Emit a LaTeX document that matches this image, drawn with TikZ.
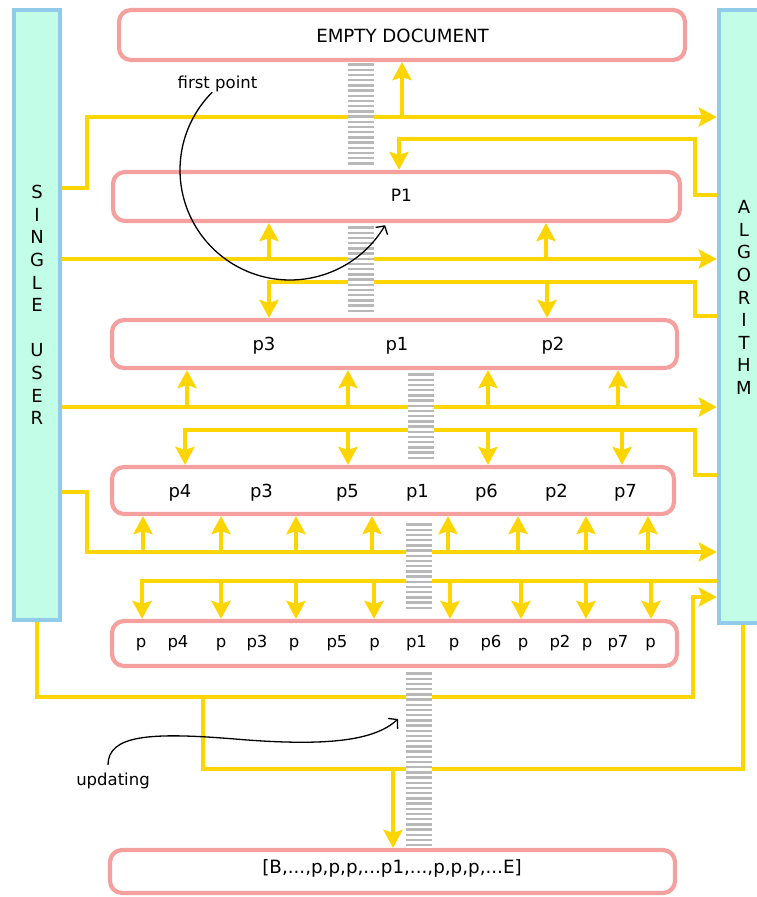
\documentclass[tikz,border=0pt]{standalone}
\usepackage{fontspec}
\setmainfont{DejaVu Sans}
\usetikzlibrary{arrows.meta}
\definecolor{gold}{HTML}{FFD500}
\definecolor{pinkb}{HTML}{F4A09E}
\definecolor{blueb}{HTML}{92CBEA}
\definecolor{mint}{HTML}{C2FDE8}
\definecolor{hatchc}{HTML}{B8B8B8}
\newcommand{\fs}[1]{\fontsize{#1}{#1}\selectfont}
\newcommand{\hatchcol}[3]{% x left, y top, number of stripes
  \fill[white] (#1,#2) rectangle ({#1+26},{#2+5.2*#3});
  \foreach \k in {1,...,#3} {\draw[hline] (#1,{#2+5.2*\k-2.6}) -- ++(26,0);}
}
\begin{document}
\begin{tikzpicture}[x=1pt,y=-1pt,
  box/.style={draw=pinkb, line width=4.2pt, rounded corners=12pt, fill=white, inner sep=0pt},
  bar/.style={draw=blueb, fill=mint, line width=4.4pt, inner sep=0pt},
  yline/.style={draw=gold, line width=4.6pt},
  yarrow/.style={yline, -{Stealth[length=18pt,width=19pt,inset=3pt]}},
  hline/.style={draw=hatchc, line width=2.4pt},
  curv/.style={draw=black, line width=1.3pt, -{Straight Barb[length=6pt,width=14pt]}},
  lbl/.style={inner sep=0pt, anchor=base},
  barlbl/.style={inner sep=0pt, align=center, font=\fontsize{18}{22.6}\selectfont},
]
\useasboundingbox (0,0) rectangle (757,897);

% bars
\node[bar, minimum width=46pt, minimum height=610pt] (su) at (37,315) {};
\node[bar, minimum width=71pt, minimum height=613pt] (alg) at (754.5,316.5) {};
\node[barlbl] (sul) at (37,305) {S\\I\\N\\G\\L\\E\\[22.6pt]U\\S\\E\\R};
\node[barlbl] (algl) at (744,297.5) {A\\L\\G\\O\\R\\I\\T\\H\\M};

% boxes
\node[box, minimum width=566pt, minimum height=50pt] (b1) at (402,35) {};
\node[box, minimum width=567pt, minimum height=49pt] (b2) at (396.5,196.5) {};
\node[box, minimum width=565pt, minimum height=48pt] (b3) at (394.5,344) {};
\node[box, minimum width=562pt, minimum height=47pt] (b4) at (393,490.5) {};
\node[box, minimum width=565pt, minimum height=45pt] (b5) at (394.5,643.5) {};
\node[box, minimum width=565pt, minimum height=43pt] (b6) at (392.5,871.5) {};

% box texts
\node[lbl, font=\fs{18.2}] (t1) at (402.5,42.7) {EMPTY DOCUMENT};
\node[lbl, font=\fs{17}] (t2) at (401.5,201.5) {P1};
\foreach \x/\t [count=\i] in {264/p3,397/p1,553/p2}
  \node[lbl, font=\fs{18}] (t3-\i) at (\x,350.5) {\t};
\foreach \x/\t [count=\i] in {180/p4,261.5/p3,347.5/p5,417.5/p1,486.5/p6,556.5/p2,625.5/p7}
  \node[lbl, font=\fs{18}] (t4-\i) at (\x,497) {\t};
\foreach \x/\t [count=\i] in {141/p,178/p4,221/p,257/p3,294/p,337/p5,374.5/p,416.5/p1,454/p,491/p6,523/p,560/p2,587/p,618/p7,650.5/p}
  \node[lbl, font=\fs{16.5}] (t5-\i) at (\x,647) {\t};
\node[lbl, font=\fs{18.3}] (t6) at (392,873) {[B,...,p,p,p,...p1,...,p,p,p,...E]};

% row A
\coordinate (a1) at (87,188);
\coordinate (a2) at (87,117);
\coordinate (a3) at (402,117);
\draw[yarrow] (su.east |- a1) -- (a1) -- (a2) -- (a2 -| alg.west);
\draw[yarrow] (a3) -- (a3 |- b1.south);
% row B
\coordinate (bb1) at (695,195);
\coordinate (bb2) at (695,139);
\coordinate (bb3) at (399,139);
\draw[yarrow] (alg.west |- bb1) -- (bb1) -- (bb2) -- (bb3) -- (bb3 |- b2.north);
% row C
\coordinate (c1) at (269,259);
\coordinate (c2) at (546,259);
\draw[yarrow] (su.east |- c1) -- (c1 -| alg.west);
\draw[yarrow] (c1) -- (c1 |- b2.south);
\draw[yarrow] (c2) -- (c2 |- b2.south);
% row D
\coordinate (d1) at (695,316);
\coordinate (d2) at (695,282);
\coordinate (d3) at (269,282);
\coordinate (d4) at (547,282);
\draw[yarrow] (alg.west |- d1) -- (d1) -- (d2) -- (d3) -- (d3 |- b3.north);
\draw[yarrow] (d4) -- (d4 |- b3.north);
% row E
\foreach \x [count=\i] in {187,348,488,618} \coordinate (e\i) at (\x,407);
\draw[yarrow] (su.east |- e1) -- (e1 -| alg.west);
\foreach \i in {1,...,4} \draw[yarrow] (e\i) -- (e\i |- b3.south);
% row F
\coordinate (f1) at (695,475);
\coordinate (f2) at (695,430);
\coordinate (f3) at (185,430);
\draw[yarrow] (alg.west |- f1) -- (f1) -- (f2) -- (f3) -- (f3 |- b4.north);
\foreach \x [count=\i] in {348,488,622} {
  \coordinate (fd\i) at (\x,430);
  \draw[yarrow] (fd\i) -- (fd\i |- b4.north);
}
% row G
\coordinate (g1) at (87,492);
\coordinate (g2) at (87,552);
\draw[yarrow] (su.east |- g1) -- (g1) -- (g2) -- (g2 -| alg.west);
\foreach \x [count=\i] in {143,221,296,372,448,518,586,648} {
  \coordinate (gu\i) at (\x,552);
  \draw[yarrow] (gu\i) -- (gu\i |- b4.south);
}
% row H
\coordinate (h1) at (142,581);
\draw[yarrow] (alg.west |- h1) -- (h1) -- (h1 |- b5.north);
\foreach \x [count=\i] in {221,296,374,450,521,586,651} {
  \coordinate (hd\i) at (\x,581);
  \draw[yarrow] (hd\i) -- (hd\i |- b5.north);
}
% row I
\coordinate (i1) at (37,697);
\coordinate (i2) at (693,697);
\coordinate (i3) at (693,597);
\draw[yarrow] (su.south) -- (i1) -- (i2) -- (i3) -- (i3 -| alg.west);
% row J
\coordinate (j1) at (743,769);
\coordinate (j2) at (203,769);
\coordinate (j3) at (203,697);
\coordinate (j4) at (393,769);
\draw[yline] (j1 |- alg.south) -- (j1) -- (j2) -- (j3);
\draw[yarrow] (j4) -- (j4 |- b6.north);

% hatched columns
\hatchcol{348}{62}{20}
\hatchcol{348}{225}{17}
\hatchcol{408}{372}{17}
\hatchcol{406}{522}{17}
\hatchcol{406}{671}{34}

% annotations
\node[lbl, font=\fs{16.5}] (fp) at (217.5,88.3) {first point};
\coordinate (fpc) at (290,170);
\draw[curv] plot[domain=0:1, samples=60, smooth] ({290+110*cos(225-195*\x)}, {170+110*sin(225-195*\x)});
\node[lbl, font=\fs{16.5}] (upd) at (113,785) {updating};
\coordinate (u0) at (108,765);
\coordinate (um) at (235,739);
\coordinate (u1) at (398,719);
\draw[curv] (u0) .. controls (108,735) and (150,732) .. (um) .. controls (330,747) and (375,740) .. (u1);
\end{tikzpicture}
\end{document}
